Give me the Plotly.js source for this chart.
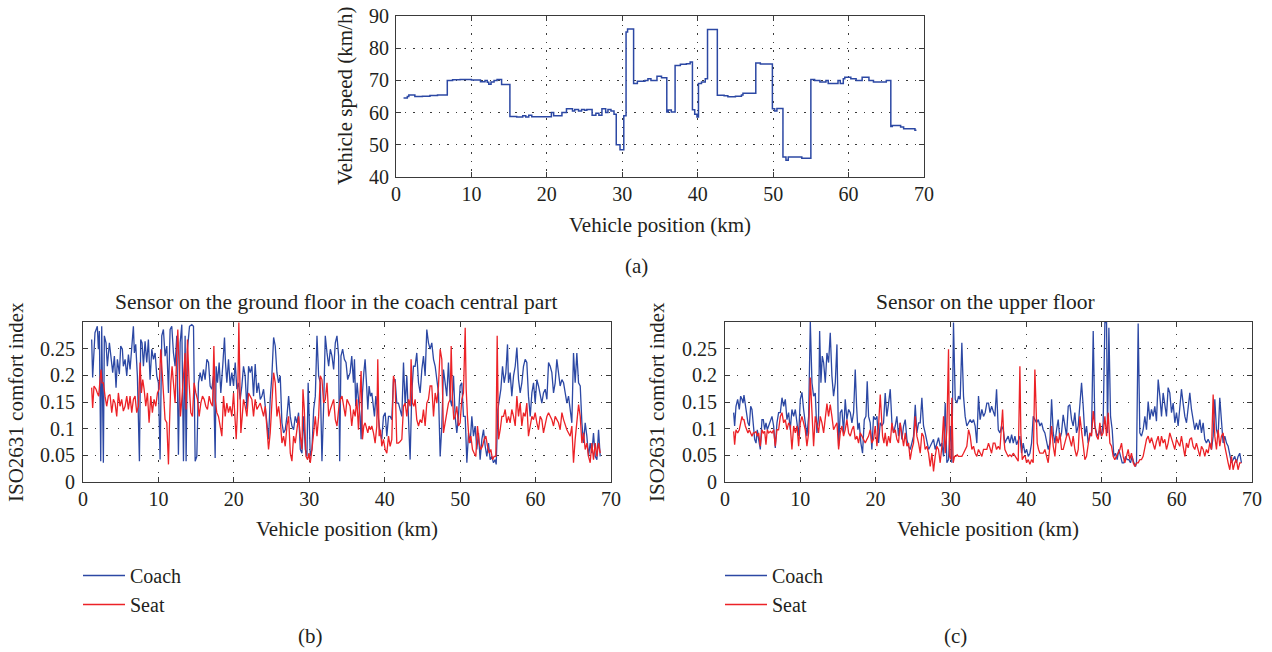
<!DOCTYPE html>
<html>
<head>
<meta charset="utf-8">
<script src="https://cdn.plot.ly/plotly-3.0.1.min.js"></script>
<style>html,body{margin:0;padding:0;background:#fff;}#chart{width:1272px;height:652px;}</style>
</head>
<body>
<div id="chart"></div>
<script>
// ---------- data ----------
const positionTicks = [0, 10, 20, 30, 40, 50, 60, 70];
const speedTicks = [40, 50, 60, 70, 80, 90];
const comfortTicks = [0, 0.05, 0.1, 0.15, 0.2, 0.25];
const comfortTickText = ['0', '0.05', '0.1', '0.15', '0.2', '0.25'];
const seriesNames = ['Coach', 'Seat'];

// (a) vehicle speed profile, [km, km/h] step points
const vehicleSpeed = [
[1.0,64.5],[1.5,65.0],[1.7,65.5],[2.5,65.0],[3.5,65.1],[4.5,65.3],[5.5,65.5],[6.8,70.0],[7.5,70.2],[8.5,70.3],
[10.0,70.1],[11.2,69.6],[11.8,70.0],[12.1,69.4],[12.3,68.8],[12.6,69.5],[13.0,70.0],[13.4,70.3],[14.0,68.7],[15.1,58.8],
[16.0,58.6],[16.8,59.0],[17.2,58.6],[17.6,59.2],[18.0,58.7],[20.6,60.0],[20.9,59.0],[22.0,60.0],[22.6,61.2],[23.4,60.5],
[23.7,61.0],[24.2,60.5],[24.6,61.0],[25.0,60.7],[25.3,61.0],[26.0,59.2],[26.5,59.8],[26.9,59.2],[27.3,61.2],[27.8,60.0],
[28.1,61.0],[28.5,60.5],[28.9,59.5],[29.2,50.0],[29.7,48.5],[30.2,59.0],[30.5,85.0],[30.7,86.0],[31.5,69.0],[32.0,69.7],
[33.0,70.0],[33.4,70.5],[33.8,70.0],[34.6,71.3],[35.2,70.8],[35.9,60.2],[36.1,60.8],[36.5,60.2],[37.0,74.6],[37.7,75.0],
[38.5,75.2],[39.0,75.7],[39.3,60.9],[39.6,59.5],[39.9,58.6],[40.1,69.0],[40.5,69.5],[41.0,70.5],[41.3,85.8],[42.6,65.4],
[43.5,65.2],[44.0,64.9],[45.0,65.1],[45.8,65.5],[46.0,66.0],[47.7,75.4],[48.3,75.1],[49.9,61.2],[50.2,60.5],[50.5,61.3],
[51.3,46.2],[51.7,45.2],[52.0,46.2],[53.8,45.8],[55.0,70.3],[55.5,70.0],[56.2,69.5],[57.0,70.0],[57.3,69.0],[58.6,70.0],
[58.9,69.0],[59.3,70.5],[59.5,71.0],[60.3,70.5],[61.0,70.0],[61.8,71.0],[62.7,70.0],[63.3,69.5],[65.0,70.0],[65.6,55.7],
[65.8,56.0],[66.9,55.5],[67.3,55.0],[68.8,54.5],[69.0,54.5]
];

// (b) ground floor sensor, [km, ISO2631 index]
const groundCoach = [
[1.15,.267],[1.28,.196],[1.59,.280],[1.90,.292],[2.04,.249],[2.17,.283],[2.35,.039],[2.48,.292],[2.70,.036],[2.83,.274],
[3.05,.261],[3.23,.217],[3.50,.261],[3.67,.236],[3.94,.205],[4.16,.236],[4.38,.177],[4.56,.230],[4.82,.202],[5.00,.255],
[5.22,.249],[5.35,.217],[5.58,.230],[5.80,.199],[6.02,.239],[6.24,.211],[6.46,.249],[6.68,.292],[6.81,.242],[6.99,.258],
[7.21,.199],[7.48,.039],[7.65,.267],[7.83,.261],[8.01,.217],[8.23,.264],[8.45,.224],[8.67,.267],[8.89,.192],[9.12,.249],
[9.34,.230],[9.56,.242],[9.78,.199],[10.00,.186],[10.22,.042],[10.44,.274],[10.66,.286],[10.88,.236],[11.11,.255],[11.33,.167],
[11.55,.286],[11.77,.292],[11.99,.242],[12.21,.217],[12.43,.274],[12.65,.051],[12.88,.261],[13.10,.295],[13.32,.039],[13.54,.274],
[13.67,.039],[13.85,.249],[14.12,.292],[14.42,.295],[14.65,.292],[14.87,.039],[15.09,.048],[15.31,.186],[15.53,.205],[15.75,.189],
[15.97,.211],[16.19,.192],[16.42,.230],[16.64,.224],[16.86,.180],[17.08,.174],[17.30,.199],[17.52,.045],[17.65,.217],[17.83,.186],
[18.05,.224],[18.27,.167],[18.54,.221],[18.76,.271],[18.89,.224],[19.07,.186],[19.29,.230],[19.51,.180],[19.73,.205],[19.96,.180],
[20.18,.224],[20.40,.174],[20.62,.186],[20.84,.155],[21.06,.180],[21.28,.217],[21.50,.199],[21.73,.136],[21.95,.217],[22.17,.205],
[22.39,.217],[22.61,.161],[22.83,.221],[23.05,.167],[23.27,.186],[23.50,.155],[23.72,.161],[23.94,.174],[24.16,.142],[24.38,.111],
[24.60,.080],[24.82,.155],[25.04,.199],[25.27,.271],[25.49,.255],[25.71,.205],[25.93,.186],[26.15,.199],[26.37,.111],[26.59,.092],
[26.81,.098],[27.04,.123],[27.26,.161],[27.48,.123],[27.70,.105],[27.92,.098],[28.14,.123],[28.36,.111],[28.58,.130],[28.81,.061],
[29.03,.054],[29.25,.123],[29.47,.061],[29.69,.048],[29.85,.186],[30.13,.048],[30.35,.061],[30.58,.136],[30.80,.161],[31.02,.274],
[31.24,.199],[31.46,.186],[31.68,.039],[31.90,.142],[32.12,.274],[32.35,.242],[32.57,.217],[32.79,.249],[33.01,.236],[33.23,.211],
[33.45,.261],[33.67,.274],[33.89,.236],[34.03,.039],[34.20,.236],[34.42,.249],[34.65,.230],[34.87,.224],[35.09,.192],
[35.41,.205],[35.63,.236],[35.86,.186],[35.99,.230],[36.16,.142],[36.34,.186],[36.52,.155],[36.74,.123],[36.87,.080],[37.05,.167],
[37.23,.205],[37.40,.230],[37.58,.186],[37.76,.136],[37.93,.180],[38.11,.161],[38.29,.167],[38.46,.148],[38.64,.123],[38.82,.161],
[38.99,.136],[39.17,.111],[39.39,.092],[39.61,.080],[39.83,.123],[40.06,.130],[40.28,.086],[40.50,.123],[40.72,.123],[40.94,.117],
[41.16,.192],[41.38,.192],[41.60,.148],[41.82,.148],[42.04,.136],[42.27,.123],[42.49,.224],[42.71,.142],[42.93,.199],[43.15,.117],
[43.37,.042],[43.59,.167],[43.81,.217],[44.03,.217],[44.25,.242],[44.48,.186],[44.70,.167],[44.92,.211],[45.14,.236],[45.36,.199],
[45.58,.286],[45.80,.261],[46.02,.249],[46.24,.261],[46.47,.230],[46.69,.217],[46.91,.186],[47.13,.167],[47.35,.048],[47.57,.105],
[47.79,.211],[48.01,.186],[48.23,.161],[48.45,.224],[48.68,.155],[48.90,.142],[49.12,.199],[49.34,.123],[49.56,.092],[49.78,.123],
[50.00,.180],[50.22,.186],[50.44,.123],[50.67,.123],[50.89,.036],[51.11,.092],[51.33,.073],[51.55,.123],[51.77,.086],[51.99,.105],
[52.21,.061],[52.43,.092],[52.65,.042],[52.88,.080],[53.10,.098],[53.32,.067],[53.54,.048],[53.76,.073],[53.98,.042],[54.20,.048],
[54.42,.036],[54.64,.042],[54.78,.033],[55.00,.136],[55.17,.155],[55.40,.174],[55.62,.217],[55.84,.186],[56.06,.205],[56.28,.258],
[56.41,.186],[56.63,.205],[56.85,.161],[57.08,.199],[57.30,.217],[57.52,.252],[57.74,.192],[57.96,.167],[58.18,.186],[58.40,.217],
[58.62,.230],[58.84,.224],[59.06,.161],[59.29,.123],[59.51,.167],[59.73,.186],[59.95,.148],[60.17,.192],[60.39,.180],[60.61,.161],
[60.83,.148],[61.05,.167],[61.28,.174],[61.50,.155],[61.72,.224],[61.94,.217],[62.16,.205],[62.38,.167],[62.60,.186],[62.82,.230],
[63.04,.199],[63.26,.180],[63.49,.192],[63.71,.186],[63.93,.167],[64.15,.148],[64.37,.161],[64.59,.130],[64.81,.111],[65.03,.242],
[65.25,.186],[65.47,.242],[65.70,.186],[65.92,.180],[66.14,.111],[66.36,.073],[66.58,.111],[66.80,.086],[67.02,.048],[67.24,.073],
[67.46,.054],[67.68,.092],[67.91,.048],[68.13,.042],[68.35,.098],[68.57,.048]
];
const groundSeat = [
[1.15,.177],[1.28,.139],[1.46,.180],[1.73,.174],[1.90,.167],[2.08,.161],[2.26,.192],[2.39,.211],[2.52,.186],[2.70,.186],
[2.92,.161],[3.14,.142],[3.36,.161],[3.58,.164],[3.81,.130],[4.03,.155],[4.25,.148],[4.47,.123],[4.69,.167],[4.91,.142],
[5.13,.155],[5.35,.133],[5.58,.142],[5.80,.161],[6.02,.136],[6.24,.161],[6.46,.130],[6.68,.155],[6.90,.161],[7.12,.130],
[7.35,.142],[7.57,.224],[7.74,.167],[7.92,.192],[8.10,.174],[8.32,.142],[8.54,.167],[8.76,.111],[8.98,.161],[9.20,.130],
[9.42,.155],[9.65,.142],[9.87,.167],[10.09,.174],[10.31,.249],[10.49,.205],[10.66,.155],[10.88,.117],[11.11,.111],[11.33,.033],
[11.46,.105],[11.64,.186],[11.81,.217],[11.99,.192],[12.21,.148],[12.43,.242],[12.57,.286],[12.74,.217],[12.92,.123],[13.10,.155],
[13.32,.199],[13.54,.242],[13.67,.136],[13.85,.267],[14.07,.186],[14.29,.130],[14.51,.123],[14.73,.186],[14.96,.167],[15.18,.155],
[15.40,.123],[15.62,.148],[15.84,.161],[16.06,.155],[16.28,.142],[16.50,.136],[16.73,.161],[16.95,.148],[17.17,.142],[17.35,.255],
[17.52,.155],[17.74,.130],[17.96,.123],[18.19,.105],[18.41,.086],[18.63,.161],[18.85,.123],[19.07,.148],[19.29,.130],[19.51,.142],
[19.73,.123],[19.96,.167],[20.18,.092],[20.31,.080],[20.49,.136],[20.66,.299],[20.80,.186],[20.93,.092],[21.11,.123],[21.28,.155],
[21.50,.142],[21.73,.123],[21.95,.167],[22.17,.161],[22.39,.155],[22.61,.123],[22.83,.155],[23.05,.136],[23.27,.142],[23.50,.148],
[23.72,.136],[23.94,.123],[24.16,.142],[24.38,.105],[24.60,.061],[24.82,.092],[25.04,.148],[25.27,.205],[25.49,.186],[25.71,.123],
[25.93,.142],[26.15,.117],[26.37,.073],[26.59,.086],[26.81,.067],[27.04,.105],[27.26,.123],[27.48,.054],[27.70,.039],[27.92,.086],
[28.14,.073],[28.36,.105],[28.58,.123],[28.81,.086],[29.03,.061],[29.16,.174],[29.34,.136],[29.56,.048],[29.78,.042],[29.96,.054],
[30.13,.036],[30.35,.061],[30.58,.092],[30.80,.123],[31.02,.086],[31.24,.123],[31.46,.199],[31.68,.192],[31.90,.148],[32.12,.155],
[32.35,.186],[32.57,.123],[32.79,.136],[33.01,.148],[33.23,.155],[33.45,.117],[33.67,.105],[33.89,.136],[34.12,.155],[34.34,.161],
[34.56,.142],[34.78,.123],[35.00,.155],[35.20,.148],
[35.41,.142],[35.63,.105],[35.86,.136],[36.08,.123],[36.30,.155],[36.52,.098],[36.74,.155],[36.87,.208],[37.05,.080],[37.23,.105],
[37.40,.111],[37.58,.098],[37.76,.092],[37.93,.105],[38.11,.098],[38.29,.105],[38.51,.092],[38.73,.073],[38.95,.105],[39.08,.230],
[39.26,.086],[39.44,.098],[39.61,.067],[39.83,.080],[40.06,.061],[40.28,.054],[40.50,.086],[40.72,.067],[40.94,.080],[41.16,.199],
[41.38,.186],[41.60,.073],[41.82,.073],[42.04,.076],[42.27,.080],[42.49,.142],[42.71,.148],[42.93,.123],[43.15,.155],[43.37,.142],
[43.50,.230],[43.68,.148],[43.86,.142],[44.03,.155],[44.25,.117],[44.48,.105],[44.70,.117],[44.92,.111],[45.14,.136],[45.36,.105],
[45.58,.148],[45.80,.155],[46.02,.180],[46.24,.180],[46.47,.123],[46.69,.167],[46.91,.148],[47.13,.180],[47.35,.249],[47.57,.230],
[47.79,.092],[48.01,.111],[48.23,.130],[48.45,.148],[48.68,.155],[48.81,.255],[48.99,.155],[49.16,.117],[49.34,.123],[49.56,.142],
[49.78,.105],[50.00,.111],[50.22,.155],[50.44,.167],[50.67,.289],[50.80,.174],[50.97,.123],[51.20,.073],[51.42,.086],[51.64,.061],
[51.86,.054],[52.08,.048],[52.30,.105],[52.52,.073],[52.74,.061],[52.96,.067],[53.19,.080],[53.41,.086],[53.63,.067],[53.85,.054],
[54.07,.061],[54.29,.042],[54.51,.048],[54.73,.048],[54.91,.274],[55.09,.080],[55.31,.098],[55.53,.123],[55.75,.123],[55.97,.136],
[56.19,.111],[56.41,.123],[56.63,.111],[56.85,.136],[57.08,.123],[57.30,.105],[57.52,.161],[57.74,.123],[57.96,.148],[58.18,.105],
[58.40,.130],[58.62,.123],[58.84,.148],[59.06,.086],[59.29,.105],[59.51,.123],[59.73,.117],[59.95,.130],[60.17,.111],[60.39,.098],
[60.61,.123],[60.83,.117],[61.05,.092],[61.28,.111],[61.50,.123],[61.72,.130],[61.94,.123],[62.16,.117],[62.38,.105],[62.60,.123],
[62.82,.117],[63.04,.111],[63.26,.098],[63.49,.130],[63.71,.117],[63.93,.105],[64.15,.098],[64.37,.092],[64.59,.086],[64.81,.105],
[65.03,.036],[65.25,.080],[65.47,.111],[65.70,.145],[65.92,.123],[66.14,.073],[66.36,.092],[66.58,.061],[66.80,.073],[67.02,.048],
[67.24,.036],[67.46,.073],[67.68,.042],[67.91,.073],[68.13,.048],[68.35,.073],[68.57,.054]
];

// (c) upper floor sensor, [km, ISO2631 index]
const upperCoach = [
[1.15,.130],[1.28,.105],[1.46,.142],[1.68,.155],[1.90,.136],[2.08,.161],[2.26,.155],[2.39,.148],[2.52,.163],[2.70,.142],
[2.88,.130],[3.05,.111],[3.23,.105],[3.41,.142],[3.58,.136],[3.76,.098],[3.94,.080],[4.12,.073],[4.29,.098],[4.47,.080],
[4.69,.061],[4.91,.117],[5.09,.117],[5.27,.098],[5.44,.111],[5.62,.098],[5.80,.105],[6.02,.111],[6.24,.123],[6.46,.105],
[6.68,.064],[6.90,.111],[7.12,.130],[7.35,.130],[7.57,.158],[7.79,.142],[8.01,.155],[8.23,.117],[8.45,.130],[8.67,.098],
[8.89,.136],[9.12,.123],[9.34,.136],[9.56,.111],[9.78,.086],[10.00,.155],[10.22,.168],[10.44,.136],[10.66,.105],[10.88,.086],
[11.11,.123],[11.33,.300],[11.55,.186],[11.77,.161],[11.99,.167],[12.21,.092],[12.43,.123],[12.57,.283],[12.74,.186],[12.92,.236],
[13.10,.224],[13.32,.186],[13.54,.242],[13.76,.224],[13.98,.280],[14.20,.199],[14.42,.161],[14.65,.186],[14.87,.258],[15.09,.067],
[15.31,.130],[15.53,.136],[15.75,.092],[15.97,.155],[16.19,.117],[16.42,.136],[16.64,.130],[16.86,.111],[17.08,.130],[17.30,.211],
[17.48,.142],[17.65,.098],[17.83,.111],[18.05,.073],[18.27,.054],[18.50,.117],[18.72,.123],[18.89,.189],[19.07,.123],[19.29,.111],
[19.51,.061],[19.73,.123],[19.96,.117],[20.18,.123],[20.40,.073],[20.62,.111],[20.84,.105],[21.06,.111],[21.28,.167],[21.50,.123],
[21.73,.148],[21.95,.174],[22.17,.111],[22.39,.092],[22.61,.105],[22.83,.123],[23.05,.086],[23.27,.111],[23.50,.080],[23.72,.105],
[23.94,.117],[24.16,.080],[24.38,.067],[24.60,.061],[24.82,.073],[25.04,.086],[25.27,.145],[25.49,.092],[25.71,.111],[25.93,.111],
[26.15,.158],[26.37,.105],[26.59,.092],[26.81,.073],[27.04,.061],[27.26,.067],[27.48,.073],[27.70,.080],[27.92,.061],[28.14,.073],
[28.36,.083],[28.58,.067],[28.81,.073],[29.03,.048],[29.25,.148],[29.47,.036],[29.69,.042],[29.91,.105],[30.13,.036],[30.35,.299],
[30.58,.155],[30.80,.148],[31.02,.161],[31.24,.155],[31.46,.261],[31.68,.161],[31.90,.123],[32.12,.105],[32.35,.111],[32.57,.117],
[32.79,.111],[33.01,.117],[33.23,.105],[33.45,.073],[33.67,.161],[33.89,.117],[34.12,.136],[34.34,.123],[34.56,.130],[34.78,.148],
[35.00,.148],[35.20,.130],
[35.41,.142],[35.63,.130],[35.85,.123],[36.07,.174],[36.30,.098],[36.52,.092],[36.74,.105],[36.96,.098],[37.18,.073],[37.40,.080],
[37.62,.086],[37.84,.073],[38.07,.089],[38.29,.073],[38.51,.086],[38.73,.070],[38.95,.080],[39.17,.086],[39.39,.054],[39.61,.073],
[39.84,.054],[40.06,.061],[40.28,.048],[40.50,.054],[40.72,.073],[40.94,.123],[41.16,.117],[41.38,.111],[41.61,.117],[41.83,.105],
[42.05,.111],[42.27,.098],[42.49,.092],[42.71,.073],[42.93,.061],[43.15,.073],[43.38,.155],[43.60,.092],[43.82,.073],[44.04,.098],
[44.26,.117],[44.48,.080],[44.70,.092],[44.92,.126],[45.15,.105],[45.37,.086],[45.59,.142],[45.81,.145],[46.03,.117],[46.25,.105],
[46.47,.130],[46.69,.092],[46.92,.105],[47.14,.148],[47.36,.186],[47.58,.142],[47.80,.086],[48.02,.105],[48.24,.073],[48.46,.086],
[48.69,.092],[48.91,.283],[49.13,.105],[49.35,.092],[49.57,.086],[49.79,.098],[50.01,.086],[50.23,.111],[50.46,.299],[50.68,.299],
[50.81,.092],[50.99,.289],[51.21,.123],[51.43,.098],[51.65,.048],[51.87,.054],[52.09,.042],[52.31,.061],[52.54,.048],[52.76,.036],
[52.98,.036],[53.20,.048],[53.42,.042],[53.64,.042],[53.86,.036],[54.08,.048],[54.31,.036],[54.53,.029],[54.66,.036],[54.88,.297],
[55.10,.092],[55.32,.086],[55.54,.098],[55.77,.123],[55.99,.098],[56.21,.151],[56.43,.117],[56.65,.136],[56.87,.123],[57.09,.142],
[57.31,.114],[57.54,.192],[57.76,.161],[57.98,.123],[58.20,.167],[58.42,.148],[58.64,.123],[58.86,.177],[59.08,.167],[59.31,.130],
[59.53,.148],[59.75,.111],[59.97,.130],[60.19,.105],[60.41,.136],[60.63,.174],[60.85,.148],[61.08,.123],[61.30,.111],[61.52,.136],
[61.74,.167],[61.96,.136],[62.18,.117],[62.40,.098],[62.62,.111],[62.85,.098],[63.07,.117],[63.29,.092],[63.51,.111],[63.73,.080],
[63.95,.073],[64.17,.080],[64.39,.073],[64.62,.061],[64.84,.086],[65.06,.155],[65.28,.098],[65.50,.086],[65.72,.158],[65.94,.123],
[66.16,.073],[66.39,.086],[66.61,.073],[66.83,.067],[67.05,.054],[67.27,.036],[67.49,.042],[67.71,.048],[67.93,.036],[68.15,.048],
[68.37,.054],[68.60,.036]
];
const upperSeat = [
[1.15,.095],[1.28,.070],[1.46,.098],[1.68,.092],[1.90,.098],[2.08,.111],[2.26,.123],[2.39,.117],[2.52,.117],[2.70,.105],
[2.88,.098],[3.05,.092],[3.23,.098],[3.41,.092],[3.58,.086],[3.76,.092],[3.94,.092],[4.12,.095],[4.29,.086],[4.47,.092],
[4.69,.067],[4.91,.098],[5.09,.092],[5.27,.095],[5.44,.070],[5.62,.098],[5.80,.092],[6.02,.095],[6.24,.092],[6.46,.098],
[6.68,.067],[6.90,.098],[7.12,.098],[7.35,.123],[7.57,.130],[7.79,.111],[8.01,.117],[8.23,.098],[8.45,.111],[8.67,.105],
[8.89,.061],[9.12,.105],[9.34,.092],[9.56,.105],[9.78,.067],[10.00,.111],[10.22,.123],[10.44,.111],[10.66,.098],[10.88,.067],
[11.11,.092],[11.33,.196],[11.55,.123],[11.77,.067],[11.99,.123],[12.21,.105],[12.43,.092],[12.65,.123],[12.88,.111],[13.10,.092],
[13.32,.123],[13.54,.147],[13.76,.123],[13.98,.145],[14.20,.123],[14.42,.098],[14.65,.105],[14.87,.111],[15.09,.061],[15.31,.092],
[15.53,.105],[15.75,.086],[15.97,.098],[16.19,.117],[16.42,.092],[16.64,.086],[16.86,.098],[17.08,.105],[17.30,.080],[17.52,.086],
[17.74,.073],[17.96,.092],[18.19,.086],[18.41,.080],[18.63,.073],[18.85,.080],[19.07,.086],[19.29,.098],[19.51,.073],[19.73,.080],
[19.96,.105],[20.18,.067],[20.40,.105],[20.62,.164],[20.75,.123],[20.93,.086],[21.11,.073],[21.28,.092],[21.50,.067],[21.73,.086],
[21.95,.073],[22.17,.111],[22.39,.092],[22.61,.098],[22.83,.080],[23.05,.073],[23.27,.111],[23.50,.086],[23.72,.067],[23.94,.092],
[24.16,.067],[24.38,.073],[24.60,.042],[24.82,.061],[25.04,.073],[25.27,.123],[25.49,.086],[25.71,.073],[25.93,.054],[26.15,.092],
[26.37,.086],[26.59,.061],[26.81,.067],[27.04,.054],[27.26,.029],[27.48,.054],[27.70,.020],[27.92,.048],[28.14,.067],[28.36,.061],
[28.58,.036],[28.81,.067],[29.03,.123],[29.25,.054],[29.47,.098],[29.69,.249],[29.82,.048],[30.00,.042],[30.13,.158],[30.31,.036],
[30.49,.048],[30.66,.048],[30.84,.051],[31.02,.048],[31.24,.048],[31.46,.048],[31.68,.054],[31.90,.061],[32.12,.067],[32.35,.098],
[32.57,.086],[32.79,.061],[33.01,.067],[33.23,.054],[33.45,.048],[33.67,.061],[33.89,.054],[34.12,.048],[34.34,.061],[34.56,.061],
[34.78,.061],[35.00,.073],[35.20,.061],
[35.41,.054],[35.63,.073],[35.85,.073],[36.07,.061],[36.30,.067],[36.52,.061],[36.87,.136],[37.05,.080],[37.18,.061],[37.40,.054],
[37.62,.048],[37.84,.051],[38.07,.048],[38.29,.054],[38.51,.048],[38.73,.042],[38.95,.039],[39.17,.217],[39.30,.092],[39.48,.042],
[39.70,.048],[39.88,.048],[40.06,.036],[40.28,.042],[40.50,.033],[40.72,.042],[40.94,.036],[41.16,.211],[41.30,.136],[41.47,.073],
[41.65,.061],[41.83,.054],[42.05,.054],[42.27,.054],[42.49,.061],[42.71,.048],[42.93,.036],[43.15,.067],[43.38,.105],[43.60,.067],
[43.82,.048],[44.04,.086],[44.26,.073],[44.48,.092],[44.70,.061],[44.92,.061],[45.15,.073],[45.37,.086],[45.59,.092],[45.81,.080],
[46.03,.067],[46.25,.086],[46.47,.061],[46.69,.048],[46.92,.061],[47.14,.123],[47.36,.098],[47.58,.073],[47.80,.042],[48.02,.048],
[48.24,.073],[48.46,.092],[48.69,.086],[48.91,.133],[49.13,.105],[49.35,.086],[49.57,.080],[49.79,.111],[50.01,.086],[50.23,.092],
[50.46,.123],[50.68,.086],[50.90,.130],[51.12,.073],[51.34,.067],[51.56,.048],[51.78,.042],[52.00,.048],[52.22,.054],[52.45,.061],
[52.67,.073],[52.89,.048],[53.11,.036],[53.33,.048],[53.55,.061],[53.77,.042],[53.99,.054],[54.22,.036],[54.44,.029],[54.66,.036],
[54.88,.036],[55.10,.042],[55.32,.042],[55.54,.048],[55.77,.067],[55.99,.080],[56.21,.086],[56.43,.073],[56.65,.083],[56.87,.073],
[57.09,.061],[57.31,.076],[57.54,.086],[57.76,.067],[57.98,.086],[58.20,.073],[58.42,.080],[58.64,.061],[58.86,.073],[59.08,.092],
[59.31,.080],[59.53,.073],[59.75,.061],[59.97,.080],[60.19,.073],[60.41,.067],[60.63,.086],[60.85,.067],[61.08,.048],[61.30,.073],
[61.52,.064],[61.74,.080],[61.96,.083],[62.18,.067],[62.40,.061],[62.62,.073],[62.85,.061],[63.07,.048],[63.29,.067],[63.51,.061],
[63.73,.048],[63.95,.061],[64.17,.054],[64.39,.073],[64.62,.061],[64.84,.164],[65.06,.086],[65.28,.061],[65.50,.098],[65.72,.067],
[65.94,.086],[66.16,.092],[66.39,.067],[66.61,.048],[66.83,.036],[67.05,.023],[67.27,.048],[67.49,.023],[67.71,.036],[67.93,.042],
[68.15,.023],[68.37,.036],[68.60,.036]
];

// ---------- styling ----------
const W = 1272, H = 652;
const fx = p => p / W;
const fy = p => 1 - p / H;
const FONT = 'Liberation Serif, "Times New Roman", serif';
const INK = '#231f20';
const BLUE = '#2c48a4';
const RED = '#ec2227';
const col = i => pairs => pairs.map(p => p[i]);
const xs = col(0), ys = col(1);

function axisBase(gridDash) {
  return {
    showline: true, linecolor: '#3a3a3a', linewidth: 1, mirror: 'ticks',
    ticks: 'inside', ticklen: 5, tickwidth: 1, tickcolor: '#3a3a3a',
    showgrid: true, gridcolor: '#3a3a3a', gridwidth: 1, griddash: gridDash,
    zeroline: false, automargin: false, fixedrange: true,
    tickfont: { family: FONT, size: 20, color: INK }
  };
}

const traces = [
  { x: xs(vehicleSpeed), y: ys(vehicleSpeed), xaxis: 'x', yaxis: 'y', type: 'scatter', mode: 'lines',
    line: { color: BLUE, width: 1.5, shape: 'hv' }, showlegend: false, hoverinfo: 'skip' },
  { x: xs(groundCoach), y: ys(groundCoach), xaxis: 'x2', yaxis: 'y2', type: 'scatter', mode: 'lines',
    name: seriesNames[0], legend: 'legend', line: { color: BLUE, width: 1.3 } },
  { x: xs(groundSeat), y: ys(groundSeat), xaxis: 'x2', yaxis: 'y2', type: 'scatter', mode: 'lines',
    name: seriesNames[1], legend: 'legend', line: { color: RED, width: 1.3 } },
  { x: xs(upperCoach), y: ys(upperCoach), xaxis: 'x3', yaxis: 'y3', type: 'scatter', mode: 'lines',
    name: seriesNames[0], legend: 'legend2', line: { color: BLUE, width: 1.3 } },
  { x: xs(upperSeat), y: ys(upperSeat), xaxis: 'x3', yaxis: 'y3', type: 'scatter', mode: 'lines',
    name: seriesNames[1], legend: 'legend2', line: { color: RED, width: 1.3 } }
];

const xTickCfg = { tickvals: positionTicks, ticklabelstandoff: -1 };
const yComfort = { range: [0, 0.3], tickvals: comfortTicks, ticktext: comfortTickText, ticklabelstandoff: 3 };

function txt(text, x, y, opts) {
  return Object.assign({ text: text, xref: 'paper', yref: 'paper', x: fx(x), y: fy(y),
    xanchor: 'center', yanchor: 'middle', showarrow: false,
    font: { family: FONT, size: 21, color: INK } }, opts || {});
}

const legendBase = {
  xanchor: 'left', yanchor: 'top', bgcolor: 'rgba(0,0,0,0)', borderwidth: 0, itemwidth: 42,
  font: { family: FONT, size: 20, color: INK }, tracegroupgap: 0, itemclick: false, itemdoubleclick: false
};

const layout = {
  width: W, height: H, margin: { l: 0, r: 0, t: 0, b: 0 },
  paper_bgcolor: '#ffffff', plot_bgcolor: '#ffffff',
  font: { family: FONT, size: 20, color: INK },
  showlegend: true, hovermode: false,
  xaxis: Object.assign(axisBase('1.5px,7px'), xTickCfg, { domain: [fx(396), fx(924)], range: [0, 70], anchor: 'y' }),
  yaxis: Object.assign(axisBase('1.5px,7px'), { domain: [fy(177), fy(16)], range: [40, 90], tickvals: speedTicks, ticklabelstandoff: 2, anchor: 'x' }),
  xaxis2: Object.assign(axisBase('1.5px,10px'), xTickCfg, { domain: [fx(83), fx(611)], range: [0, 70], anchor: 'y2' }),
  yaxis2: Object.assign(axisBase('1.5px,10px'), yComfort, { domain: [fy(482), fy(322)], anchor: 'x2' }),
  xaxis3: Object.assign(axisBase('1.5px,10px'), xTickCfg, { domain: [fx(725), fx(1252)], range: [0, 70], anchor: 'y3' }),
  yaxis3: Object.assign(axisBase('1.5px,10px'), yComfort, { domain: [fy(482), fy(322)], anchor: 'x3' }),
  legend: Object.assign({}, legendBase, { x: fx(78), y: fy(556) }),
  legend2: Object.assign({}, legendBase, { x: fx(720), y: fy(556) }),
  annotations: [
    txt('Vehicle speed (km/h)', 345, 96, { textangle: -90 }),
    txt('Vehicle position (km)', 660, 225),
    txt('(a)', 636, 266),
    txt('Sensor on the ground floor in the coach central part', 336, 302, { font: { family: FONT, size: 21.5, color: INK } }),
    txt('ISO2631 comfort index', 16, 402, { textangle: -90 }),
    txt('Vehicle position (km)', 347, 529),
    txt('(b)', 310, 636),
    txt('Sensor on the upper floor', 985, 302, { font: { family: FONT, size: 21.5, color: INK } }),
    txt('ISO2631 comfort index', 657, 402, { textangle: -90 }),
    txt('Vehicle position (km)', 988, 529),
    txt('(c)', 955, 636)
  ]
};

Plotly.newPlot('chart', traces, layout, { staticPlot: true, displayModeBar: false });
</script>
</body>
</html>
